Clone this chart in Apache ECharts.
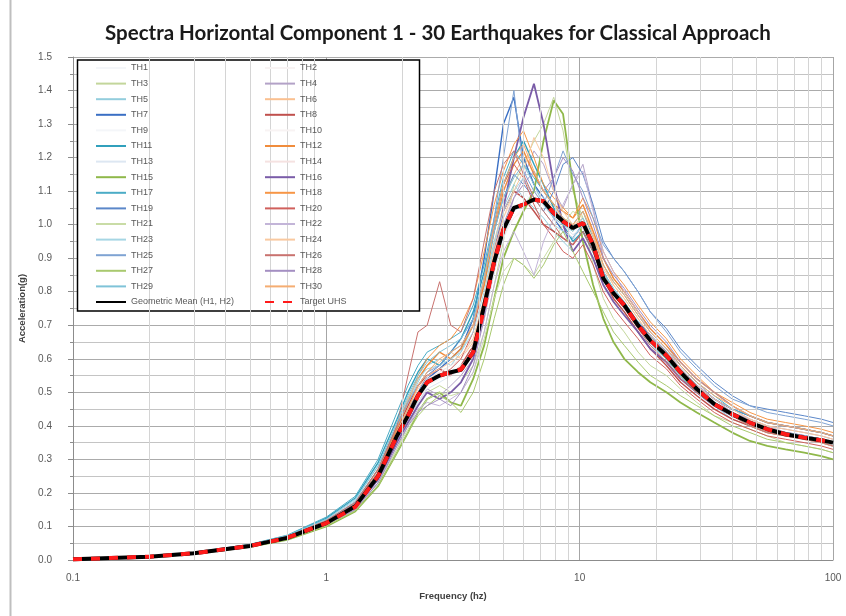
<!DOCTYPE html>
<html><head><meta charset="utf-8">
<script src="https://cdn.jsdelivr.net/npm/echarts@6/dist/echarts.min.js"></script>
<style>html,body{margin:0;padding:0;background:#fff}#c{width:846px;height:616px}</style>
</head><body><div id="c"></div>
<script>
const freqs = [0.1,0.2,0.3,0.5,0.7, 1.0,1.3,1.6,1.9,2.1, 2.3,2.5,2.8,3.1,3.4, 3.8,4.2,4.6,5.0,5.5, 6.0,6.6,7.2,7.9,8.6, 9.4,10.3,11.3,12.4,13.6, 15,17,19,22,25, 29,34,40,47,55, 65,77,90,100];

const th01 = [0.002,0.011,0.021,0.044,0.068, 0.112,0.165,0.26,0.38,0.45, 0.50,0.55,0.58,0.56,0.60, 0.66,0.78,0.92,1.02,1.10, 1.08,1.12,1.05,1.02,0.98, 0.95,1.02,0.95,0.86,0.80, 0.78,0.72,0.66,0.62,0.57, 0.52,0.47,0.44,0.41,0.39, 0.38,0.37,0.36,0.35];
const th02 = [0.002,0.010,0.019,0.040,0.064, 0.105,0.150,0.24,0.35,0.41, 0.47,0.52,0.54,0.55,0.58, 0.63,0.75,0.88,0.98,1.02, 1.05,1.08,1.10,1.04,1.00, 0.97,0.99,0.92,0.82,0.78, 0.74,0.68,0.64,0.60,0.55, 0.50,0.46,0.43,0.40,0.38, 0.37,0.36,0.35,0.34];
const th03 = [0.002,0.009,0.019,0.041,0.063, 0.104,0.150,0.23,0.33,0.40, 0.46,0.50,0.52,0.50,0.53, 0.58,0.68,0.82,0.95,1.12, 1.18,1.25,1.30,1.38,1.28, 1.10,1.02,0.88,0.78,0.72, 0.68,0.62,0.58,0.55,0.51, 0.47,0.43,0.41,0.39,0.37, 0.35,0.34,0.33,0.32];
const th04 = [0.002,0.011,0.022,0.045,0.070, 0.118,0.170,0.26,0.37,0.42, 0.47,0.51,0.49,0.52,0.55, 0.60,0.72,0.86,0.97,1.08, 1.14,1.22,1.18,1.10,1.05, 1.12,1.18,1.05,0.90,0.84, 0.80,0.74,0.69,0.64,0.58, 0.53,0.48,0.45,0.42,0.40, 0.39,0.38,0.37,0.36];
const th05 = [0.002,0.010,0.021,0.043,0.068, 0.115,0.175,0.27,0.40,0.47, 0.53,0.58,0.60,0.58,0.62, 0.70,0.82,0.95,1.05,1.12, 1.08,1.05,1.02,0.98,0.95, 0.92,0.96,0.90,0.82,0.78, 0.74,0.68,0.64,0.60,0.55, 0.50,0.46,0.42,0.40,0.38, 0.37,0.36,0.35,0.34];
const th06 = [0.002,0.010,0.020,0.042,0.066, 0.110,0.160,0.25,0.38,0.45, 0.52,0.56,0.59,0.62,0.60, 0.65,0.78,0.94,1.06,1.15, 1.20,1.12,1.08,1.05,1.02, 0.98,1.04,0.98,0.88,0.82, 0.78,0.72,0.67,0.62,0.57, 0.52,0.48,0.44,0.42,0.40, 0.38,0.37,0.36,0.35];
const th07 = [0.002,0.010,0.020,0.041,0.065, 0.108,0.158,0.24,0.36,0.43, 0.49,0.54,0.57,0.60,0.63, 0.72,0.90,1.10,1.30,1.38, 1.20,1.12,1.08,1.02,0.98, 0.96,1.00,0.95,0.86,0.80, 0.76,0.71,0.67,0.62,0.57, 0.52,0.48,0.45,0.43,0.41, 0.40,0.39,0.38,0.37];
const th08 = [0.002,0.011,0.021,0.043,0.067, 0.112,0.162,0.26,0.39,0.46, 0.52,0.55,0.57,0.55,0.58, 0.64,0.76,0.92,1.04,1.10, 1.08,1.04,1.00,0.98,0.96, 0.94,0.98,0.92,0.84,0.78, 0.74,0.68,0.63,0.58,0.53, 0.49,0.45,0.42,0.40,0.38, 0.37,0.36,0.35,0.34];
const th09 = [0.002,0.010,0.020,0.042,0.065, 0.108,0.155,0.24,0.36,0.42, 0.48,0.52,0.54,0.57,0.60, 0.64,0.76,0.90,1.00,1.06, 1.10,1.06,1.04,1.00,0.98, 1.00,1.02,0.94,0.84,0.80, 0.76,0.70,0.66,0.61,0.56, 0.51,0.47,0.44,0.41,0.39, 0.38,0.37,0.36,0.35];
const th10 = [0.002,0.010,0.020,0.043,0.066, 0.110,0.158,0.25,0.37,0.44, 0.50,0.53,0.55,0.56,0.58, 0.62,0.72,0.86,0.96,1.02, 1.04,1.08,1.06,1.02,1.00, 0.98,1.00,0.93,0.83,0.79, 0.75,0.69,0.65,0.60,0.55, 0.50,0.46,0.43,0.41,0.39, 0.37,0.36,0.35,0.34];
const th11 = [0.002,0.011,0.022,0.046,0.072, 0.125,0.185,0.29,0.42,0.50, 0.56,0.60,0.58,0.62,0.66, 0.74,0.86,1.00,1.12,1.20, 1.25,1.18,1.12,1.05,1.00, 0.95,0.98,0.92,0.84,0.80, 0.76,0.70,0.65,0.60,0.55, 0.50,0.46,0.43,0.41,0.39, 0.38,0.37,0.36,0.35];
const th12 = [0.002,0.010,0.021,0.044,0.069, 0.116,0.168,0.27,0.40,0.48, 0.54,0.58,0.62,0.60,0.63, 0.70,0.82,0.98,1.10,1.18, 1.22,1.15,1.10,1.06,1.04, 1.02,1.06,0.98,0.90,0.84, 0.80,0.74,0.69,0.64,0.59, 0.54,0.50,0.46,0.43,0.41, 0.40,0.39,0.38,0.37];
const th13 = [0.002,0.010,0.020,0.041,0.064, 0.106,0.152,0.24,0.35,0.41, 0.47,0.51,0.53,0.55,0.57, 0.61,0.72,0.86,0.96,1.04, 1.06,1.10,1.08,1.04,1.00, 0.97,0.99,0.93,0.84,0.80, 0.76,0.70,0.66,0.61,0.56, 0.51,0.47,0.44,0.41,0.39, 0.38,0.37,0.36,0.35];
const th14 = [0.002,0.010,0.020,0.042,0.066, 0.110,0.160,0.25,0.37,0.44, 0.50,0.54,0.56,0.58,0.60, 0.66,0.78,0.92,1.02,1.08, 1.12,1.10,1.06,1.02,0.99, 0.96,0.99,0.94,0.85,0.80, 0.77,0.71,0.66,0.61,0.56, 0.51,0.47,0.44,0.42,0.40, 0.38,0.37,0.36,0.35];
const th15 = [0.002,0.009,0.018,0.039,0.060, 0.100,0.145,0.22,0.32,0.38, 0.44,0.48,0.50,0.47,0.46, 0.54,0.64,0.78,0.90,0.98, 1.04,1.10,1.25,1.37,1.33, 1.12,0.95,0.82,0.72,0.65, 0.60,0.56,0.53,0.50,0.47, 0.44,0.41,0.38,0.355,0.34, 0.33,0.32,0.31,0.30];
const th16 = [0.002,0.010,0.020,0.042,0.066, 0.108,0.155,0.24,0.35,0.41, 0.46,0.50,0.48,0.50,0.53, 0.60,0.74,0.90,1.05,1.20, 1.32,1.42,1.30,1.12,1.00, 0.92,0.96,0.90,0.82,0.77, 0.73,0.68,0.63,0.59,0.54, 0.50,0.46,0.43,0.41,0.39, 0.38,0.37,0.36,0.35];
const th17 = [0.002,0.011,0.023,0.047,0.074, 0.128,0.190,0.30,0.44,0.52, 0.58,0.62,0.64,0.66,0.68, 0.76,0.88,1.02,1.14,1.22, 1.18,1.14,1.10,1.06,1.02, 1.00,1.04,0.96,0.88,0.83, 0.79,0.73,0.68,0.63,0.58, 0.53,0.49,0.45,0.43,0.41, 0.40,0.39,0.38,0.37];
const th18 = [0.002,0.010,0.020,0.043,0.067, 0.112,0.165,0.26,0.39,0.47, 0.55,0.60,0.64,0.66,0.70, 0.78,0.92,1.06,1.16,1.24, 1.28,1.20,1.12,1.08,1.05, 1.02,1.08,1.02,0.92,0.86, 0.82,0.76,0.71,0.66,0.60, 0.55,0.50,0.47,0.44,0.42, 0.41,0.40,0.39,0.38];
const th19 = [0.002,0.010,0.021,0.044,0.068, 0.114,0.165,0.26,0.38,0.45, 0.50,0.55,0.58,0.62,0.66, 0.72,0.84,0.98,1.08,1.15, 1.12,1.08,1.04,1.10,1.18, 1.20,1.15,1.06,0.95,0.90, 0.86,0.80,0.74,0.69,0.63, 0.58,0.53,0.49,0.46,0.45, 0.44,0.43,0.42,0.41];
const th20 = [0.002,0.010,0.020,0.042,0.066, 0.108,0.158,0.25,0.37,0.44, 0.50,0.53,0.55,0.57,0.60, 0.68,0.84,1.00,1.12,1.18, 1.14,1.06,1.00,0.96,0.92, 0.90,0.94,0.88,0.80,0.75, 0.71,0.66,0.61,0.57,0.52, 0.48,0.44,0.41,0.39,0.37, 0.36,0.35,0.34,0.33];
const th21 = [0.002,0.010,0.019,0.040,0.062, 0.102,0.148,0.23,0.33,0.39, 0.44,0.48,0.50,0.49,0.50, 0.56,0.66,0.78,0.86,0.90, 0.88,0.85,0.90,0.95,1.00, 1.04,1.02,0.95,0.86,0.80, 0.76,0.70,0.65,0.60,0.55, 0.50,0.46,0.43,0.40,0.38, 0.37,0.36,0.35,0.34];
const th22 = [0.002,0.010,0.020,0.041,0.064, 0.106,0.152,0.23,0.34,0.40, 0.45,0.47,0.46,0.48,0.50, 0.56,0.68,0.82,0.92,0.98, 0.92,0.85,0.95,1.02,1.06, 1.12,1.16,1.04,0.92,0.86, 0.80,0.74,0.68,0.63,0.57, 0.52,0.48,0.44,0.42,0.40, 0.38,0.37,0.36,0.35];
const th23 = [0.002,0.011,0.022,0.045,0.071, 0.120,0.178,0.28,0.41,0.48, 0.54,0.57,0.58,0.60,0.62, 0.68,0.80,0.94,1.04,1.10, 1.14,1.08,1.04,1.00,0.98, 0.96,1.00,0.94,0.86,0.81, 0.77,0.71,0.66,0.61,0.56, 0.51,0.47,0.44,0.41,0.39, 0.38,0.37,0.36,0.35];
const th24 = [0.002,0.010,0.020,0.043,0.067, 0.112,0.162,0.26,0.38,0.45, 0.51,0.55,0.57,0.59,0.61, 0.66,0.78,0.92,1.02,1.10, 1.16,1.26,1.20,1.10,1.04, 1.00,1.02,0.96,0.87,0.82, 0.78,0.72,0.67,0.62,0.57, 0.52,0.48,0.45,0.42,0.40, 0.39,0.38,0.37,0.36];
const th25 = [0.002,0.011,0.021,0.044,0.069, 0.116,0.170,0.27,0.40,0.47, 0.52,0.56,0.58,0.62,0.64, 0.70,0.84,1.02,1.20,1.40, 1.16,1.10,1.06,1.14,1.22, 1.15,1.10,1.02,0.94,0.90, 0.86,0.80,0.74,0.68,0.62, 0.57,0.52,0.48,0.46,0.44, 0.43,0.42,0.41,0.40];
const th26 = [0.002,0.011,0.022,0.046,0.071, 0.118,0.172,0.27,0.40,0.55, 0.68,0.70,0.83,0.70,0.68, 0.78,0.95,1.10,1.18,1.22, 1.15,1.08,1.04,1.00,0.96, 0.94,0.98,0.92,0.84,0.79, 0.75,0.69,0.64,0.59,0.54, 0.50,0.46,0.43,0.40,0.38, 0.37,0.36,0.35,0.34];
const th27 = [0.002,0.009,0.019,0.040,0.062, 0.102,0.146,0.22,0.32,0.38, 0.43,0.46,0.49,0.47,0.44, 0.50,0.60,0.72,0.82,0.90, 0.88,0.84,0.88,0.94,0.98, 0.92,0.86,0.80,0.74,0.68, 0.64,0.59,0.55,0.52,0.49, 0.46,0.43,0.40,0.38,0.36, 0.35,0.34,0.33,0.32];
const th28 = [0.002,0.010,0.020,0.042,0.065, 0.106,0.150,0.23,0.34,0.40, 0.44,0.46,0.48,0.46,0.50, 0.58,0.72,0.88,1.00,1.08, 1.12,1.16,1.10,1.14,1.20, 1.16,1.08,1.00,0.90,0.85, 0.81,0.75,0.70,0.65,0.59, 0.54,0.50,0.46,0.43,0.41, 0.40,0.39,0.38,0.37];
const th29 = [0.002,0.011,0.022,0.046,0.073, 0.122,0.182,0.28,0.41,0.49, 0.55,0.59,0.62,0.64,0.66, 0.72,0.84,0.98,1.08,1.14, 1.18,1.12,1.06,1.02,1.00, 0.98,1.02,0.95,0.86,0.81, 0.77,0.71,0.66,0.61,0.56, 0.51,0.47,0.44,0.41,0.39, 0.38,0.37,0.36,0.35];
const th30 = [0.002,0.010,0.020,0.043,0.067, 0.110,0.160,0.25,0.38,0.45, 0.52,0.56,0.60,0.62,0.64, 0.70,0.84,1.00,1.12,1.20, 1.24,1.16,1.10,1.06,1.02, 1.00,1.04,0.97,0.88,0.83, 0.79,0.73,0.68,0.63,0.58, 0.53,0.49,0.46,0.43,0.41, 0.40,0.39,0.38,0.37];
const geoMean = [0.002,0.010,0.020,0.042,0.066, 0.110,0.160,0.25,0.37,0.43, 0.49,0.53,0.55,0.56,0.567, 0.62,0.76,0.89,0.985,1.05, 1.06,1.075,1.07,1.035,1.01, 0.99,1.005,0.94,0.84,0.796, 0.76,0.70,0.655,0.61,0.56, 0.51,0.465,0.435,0.41,0.39, 0.375,0.365,0.357,0.35];
const targetUHS = [0.002,0.010,0.020,0.042,0.066, 0.110,0.158,0.25,0.37,0.43, 0.49,0.53,0.55,0.56,0.568, 0.62,0.75,0.89,0.985,1.05, 1.06,1.075,1.07,1.035,1.01, 0.99,1.005,0.94,0.84,0.796, 0.76,0.70,0.655,0.61,0.56, 0.51,0.465,0.435,0.41,0.39, 0.375,0.365,0.357,0.35];

const thNames = ['TH1','TH2','TH3','TH4','TH5','TH6','TH7','TH8','TH9','TH10','TH11','TH12','TH13','TH14','TH15','TH16','TH17','TH18','TH19','TH20','TH21','TH22','TH23','TH24','TH25','TH26','TH27','TH28','TH29','TH30'];
const meanName = 'Geometric Mean (H1, H2)';
const targetName = 'Target UHS';
const minorFreqs = [0.2,0.3,0.4,0.5,0.6,0.7,0.8,0.9,2,3,4,5,6,7,8,9,20,30,40,50,60,70,80,90];

const thData = [th01,th02,th03,th04,th05,th06,th07,th08,th09,th10,th11,th12,th13,th14,th15,th16,th17,th18,th19,th20,th21,th22,th23,th24,th25,th26,th27,th28,th29,th30];
const thColors = ['#f4f6f9','#f8f3f3','#c3d69b','#b3a2c7','#93cddd','#fac090','#3a6fc4','#c0504d','#f4f6f9','#f8f3f3',
  '#31a0bc','#f08c3c','#dde7f2','#f5e2e1','#8fb84a','#7a5ca8','#4bacc6','#f79646','#5b87c9','#d0605c',
  '#c9dca6','#c3b5d8','#a6d6e4','#f9c9a0','#7fa3d3','#c9726f','#a9c96f','#a48fc2','#7fc3d8','#f5ad72'];
const thWidths = [1,1,1,1,1,1,1.4,1.4,1,1,1.4,1.4,1,1,1.8,1.8,1,1,1,1,1,1,1,1,1,1,1,1,1,1];

const series = [];
series.push({
  type:'line', name:'_grid', data:[], silent:true, z:1,
  markLine:{silent:true, symbol:'none', label:{show:false},
    lineStyle:{color:'#d4d4d4', width:1, type:'solid'},
    data: minorFreqs.map(f => ({xAxis:f}))}
});
thData.forEach((arr,i) => {
  series.push({
    type:'line', name:thNames[i], data:freqs.map((f,j)=>[f,arr[j]]),
    symbol:'none', z:2, lineStyle:{color:thColors[i], width:thWidths[i]}, itemStyle:{color:thColors[i]}
  });
});
series.push({type:'line', name:meanName, data:freqs.map((f,j)=>[f,geoMean[j]]), symbol:'none', z:3,
  lineStyle:{color:'#000', width:4}, itemStyle:{color:'#000'}});
series.push({type:'line', name:targetName, data:freqs.map((f,j)=>[f,targetUHS[j]]), symbol:'none', z:4,
  lineStyle:{color:'#ff1a1a', width:4, type:[9,9]}, itemStyle:{color:'#ff1a1a'}});

const leftNames = thNames.filter((n,i)=>i%2===0).concat([meanName]);
const rightNames = thNames.filter((n,i)=>i%2===1).concat([targetName]);
const legendCommon = {orient:'vertical', top:63, itemWidth:30, itemHeight:10, itemGap:5.6, padding:0, z:10,
  selectedMode:false, itemStyle:{opacity:0, borderWidth:0},
  textStyle:{fontSize:9, color:'#595959', lineHeight:10, padding:[0,0,0,0], fontFamily:'Liberation Sans Narrow, Liberation Sans, sans-serif'}};

const chart = echarts.init(document.getElementById('c'), null, {renderer:'canvas'});
chart.setOption({
  backgroundColor:'#ffffff',
  animation:false,
  title:{text:'Spectra Horizontal Component 1 - 30 Earthquakes for Classical Approach', left:100, top:18,
    textStyle:{fontSize:20.5, fontWeight:'bold', color:'#1a1a1a', fontFamily:'Lato, sans-serif'}},
  legend:[Object.assign({left:95, data:leftNames}, legendCommon), Object.assign({left:264, data:rightNames}, legendCommon)],
  graphic:[
    {type:'rect', z:5, shape:{x:77.5, y:60, width:342, height:251}, style:{fill:'#fff', stroke:'#000', lineWidth:1.5}},
    {type:'line', z:5, shape:{x1:10.5, y1:0, x2:10.5, y2:616}, style:{stroke:'#bfbfbf', lineWidth:2}}
  ],
  grid:{left:73, right:13, top:57, bottom:56, containLabel:false, show:false},
  xAxis:{type:'log', logBase:10, min:0.1, max:100,
    name:'Frequency (hz)', nameLocation:'middle', nameGap:31,
    nameTextStyle:{fontSize:9.5, fontWeight:'bold', color:'#404040', fontFamily:'Liberation Sans Narrow, Liberation Sans, sans-serif'},
    axisLine:{show:true, lineStyle:{color:'#8c8c8c'}}, axisTick:{show:false},
    axisLabel:{fontSize:10, color:'#595959', margin:13, formatter:v=>String(+v.toPrecision(3))},
    splitLine:{show:true, lineStyle:{color:'#a6a6a6', width:1}}},
  yAxis:{type:'value', min:0, max:1.5, interval:0.1,
    name:'Acceleration(g)', nameLocation:'middle', nameRotate:90, nameGap:37,
    nameTextStyle:{fontSize:9.5, fontWeight:'bold', color:'#404040', fontFamily:'Liberation Sans Narrow, Liberation Sans, sans-serif'},
    axisLine:{show:true, lineStyle:{color:'#8c8c8c'}},
    axisTick:{show:true, length:5, lineStyle:{color:'#8c8c8c'}},
    minorTick:{show:true, splitNumber:2, length:3, lineStyle:{color:'#8c8c8c'}},
    minorSplitLine:{show:true, lineStyle:{color:'#c4c4c4'}},
    axisLabel:{fontSize:10, color:'#595959', margin:21, formatter:v=>(+v).toFixed(1)},
    splitLine:{show:true, lineStyle:{color:'#ababab'}}},
  series:series
});
</script></body></html>
